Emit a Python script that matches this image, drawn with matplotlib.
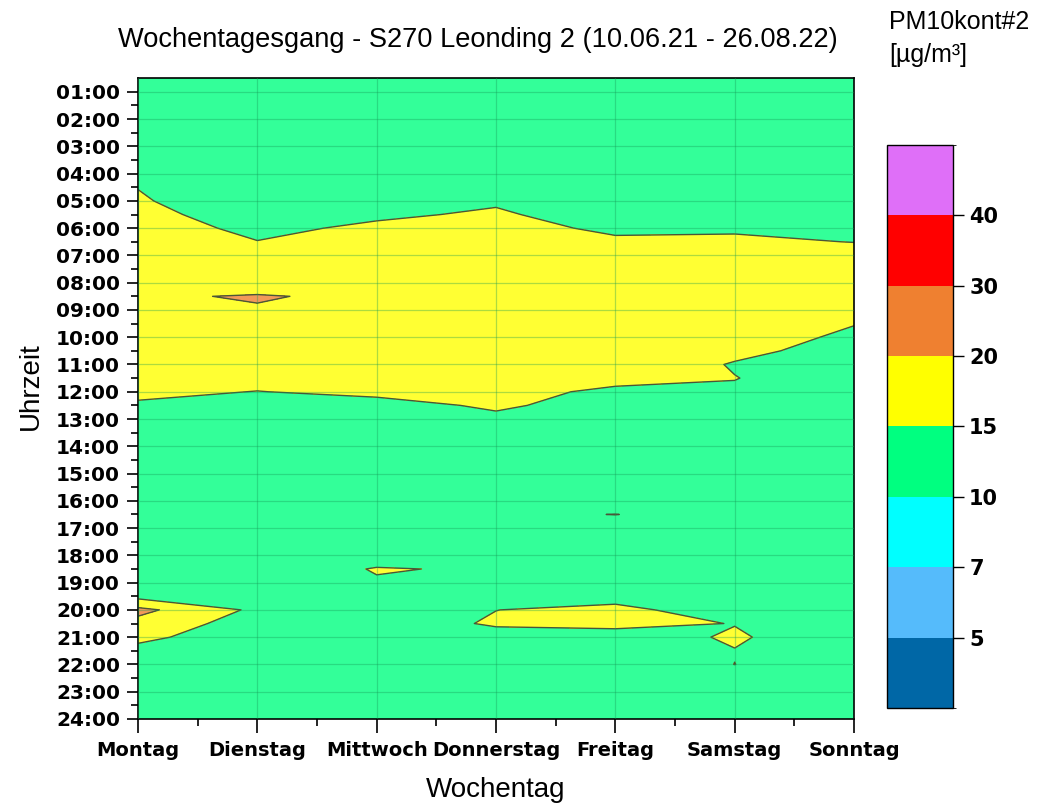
import numpy as np
import matplotlib
matplotlib.use("Agg")
import matplotlib.pyplot as plt
from matplotlib.colors import ListedColormap, BoundaryNorm
from matplotlib.cm import ScalarMappable

plt.rcParams['font.family'] = ['Liberation Sans', 'DejaVu Sans']

# Halbstundenwerte 00:30 .. 24:00, PM10 in µg/m³
wochentage = ["Montag", "Dienstag", "Mittwoch", "Donnerstag", "Freitag", "Samstag", "Sonntag"]

montag = [12.8, 12.6, 12.4, 12.3, 12.2, 12.3, 12.6, 13.4,
          14.9, 15.5, 16.5, 17.0, 17.4, 17.8, 18.3, 18.8,
          19.5, 18.6, 17.9, 17.5, 17.2, 16.9, 16.5, 16.0,
          14.4, 13.6, 13.2, 13.0, 12.8, 12.7, 12.8, 12.9,
          13.0, 13.1, 13.3, 13.4, 13.5, 13.5, 13.5, 21.3,
          18.5, 16.0, 13.8, 13.2, 12.9, 12.7, 12.6, 12.5]
dienstag = [12.7, 12.5, 12.3, 12.1, 12.0, 12.0, 12.1, 12.2,
            11.9, 11.7, 12.5, 14.0, 15.1, 16.5, 17.2, 18.0,
            20.3, 19.7, 18.2, 17.6, 17.2, 16.9, 16.5, 14.9,
            13.6, 13.2, 13.0, 12.8, 12.7, 12.6, 12.6, 12.7,
            12.8, 12.9, 12.9, 12.6, 12.0, 12.4, 13.0, 14.0,
            12.5, 12.3, 12.4, 12.5, 12.5, 12.4, 12.3, 12.3]
mittwoch = [12.6, 12.4, 12.2, 12.0, 11.9, 11.9, 12.0, 12.3,
            12.9, 13.5, 14.3, 15.8, 16.6, 17.1, 17.6, 18.2,
            19.2, 18.4, 17.8, 17.4, 17.1, 16.8, 16.5, 16.0,
            13.5, 13.0, 12.8, 12.6, 12.5, 12.4, 12.5, 12.6,
            12.7, 12.8, 12.9, 12.8, 15.3, 14.6, 13.2, 12.8,
            12.3, 12.4, 12.5, 12.5, 12.4, 12.3, 12.3, 12.2]
donnerstag = [12.7, 12.5, 12.3, 12.1, 12.0, 12.1, 12.3, 12.8,
              13.8, 14.45, 15.6, 16.5, 17.0, 17.4, 17.8, 18.3,
              18.6, 18.2, 17.8, 17.5, 17.2, 17.0, 16.8, 16.35,
              15.64, 14.1, 13.4, 13.0, 12.8, 12.7, 12.8, 13.0,
              14.4, 13.3, 13.2, 13.4, 14.5, 13.0, 13.6, 14.95,
              15.6, 13.1, 12.8, 12.7, 12.6, 12.5, 12.5, 12.4]
freitag = [12.8, 12.6, 12.4, 12.2, 12.1, 12.1, 12.2, 12.4,
           12.6, 12.7, 12.7, 14.2, 15.7, 16.4, 16.9, 17.3,
           17.6, 17.8, 17.9, 18.0, 18.1, 18.0, 16.2, 14.2,
           13.2, 12.9, 12.8, 12.7, 12.7, 12.8, 13.0, 13.3,
           15.05, 13.4, 13.2, 13.1, 13.0, 12.9, 12.9, 16.5,
           16.0, 13.4, 12.9, 12.7, 12.6, 12.5, 12.5, 12.4]
samstag = [12.9, 12.7, 12.5, 12.3, 12.2, 12.2, 12.3, 12.5,
           12.8, 13.2, 13.7, 14.4, 15.8, 16.6, 17.1, 17.5,
           17.7, 17.8, 17.6, 17.0, 16.0, 14.7, 15.1, 14.5,
           13.6, 13.1, 12.9, 12.8, 12.7, 12.7, 12.8, 13.0,
           13.5, 13.4, 13.3, 13.2, 13.2, 13.3, 13.0, 12.0,
           14.9, 15.4, 14.9, 15.02, 13.5, 12.9, 12.7, 12.6]
sonntag = [12.9, 12.8, 12.6, 12.4, 12.3, 12.3, 12.4, 12.6,
           12.9, 13.2, 13.6, 14.1, 14.9, 17.0, 17.4, 17.2,
           16.8, 16.0, 15.15, 14.2, 13.4, 13.0, 12.8, 12.7,
           12.6, 12.6, 12.6, 12.6, 12.6, 12.7, 12.8, 12.9,
           13.0, 13.1, 13.1, 13.0, 12.9, 12.9, 12.9, 12.8,
           12.8, 12.7, 12.7, 12.6, 12.6, 12.5, 12.5, 12.5]

stufen = [0, 5, 7, 10, 15, 20, 30, 40, 50]
farben = ['#0067a6', '#55bbfb', '#00ffff', '#00ff80', '#ffff00', '#ef8030', '#ff0000', '#df6ff8']
cb_ticks = [5, 7, 10, 15, 20, 30, 40]

stunden = np.arange(1, 49) * 0.5
tage = np.arange(7)
Z = np.array([montag, dienstag, mittwoch, donnerstag, freitag, samstag, sonntag]).T

cmap = ListedColormap(farben)
norm = BoundaryNorm(stufen, cmap.N)

fig = plt.figure(figsize=(10.4, 8.06), dpi=100)
ax = fig.add_axes([0.1327, 0.108, 0.6885, 0.795])

ax.contourf(tage, stunden, Z, levels=stufen, cmap=cmap, norm=norm, alpha=0.8)
ax.contour(tage, stunden, Z, levels=stufen, colors='#4a5638', linewidths=1.0)

ax.set_xlim(0, 6)
ax.set_ylim(24, 0.5)
ax.set_xticks(tage)
ax.set_xticklabels(wochentage)
ax.set_xticks(np.arange(0.5, 6, 1), minor=True)
ax.set_yticks(np.arange(1, 25))
ax.set_yticklabels([f"{h:02d}:00" for h in range(1, 25)])
ax.set_yticks(np.arange(1.5, 24, 1), minor=True)
for lab in ax.get_xticklabels() + ax.get_yticklabels():
    lab.set_fontweight('bold')
    lab.set_fontfamily('DejaVu Sans')
ax.tick_params(axis='y', which='major', labelsize=14.5, length=8, width=1.2, pad=5)
ax.tick_params(axis='x', which='major', labelsize=14, length=10, width=1.2, pad=6)
ax.tick_params(which='minor', length=5, width=1.2)
ax.grid(True, which='major', color='#159a55', alpha=0.35, linewidth=0.9)
ax.set_axisbelow(False)
for s in ax.spines.values():
    s.set_linewidth(1.2)

ax.set_xlabel("Wochentag", fontsize=20, labelpad=12)
ax.set_ylabel("Uhrzeit", fontsize=20)
ax.yaxis.set_label_coords(-0.131, 0.52)
fig.text(0.113, 0.95, "Wochentagesgang - S270 Leonding 2 (10.06.21 - 26.08.22)", fontsize=19.6, va='center')

cax = fig.add_axes([0.853, 0.1216, 0.0635, 0.6985])
cb = fig.colorbar(ScalarMappable(norm=norm, cmap=cmap), cax=cax, ticks=cb_ticks, spacing='uniform')
cb.outline.set_linewidth(1.0)
cax.tick_params(length=8, width=1.0, labelsize=15)
for lab in cax.get_yticklabels():
    lab.set_fontweight('bold')
    lab.set_fontfamily('DejaVu Sans')
fig.text(0.855, 0.973, "PM10kont#2", fontsize=18, va='center')
fig.text(0.855, 0.932, "[µg/m³]", fontsize=18, va='center')

fig.savefig("out.png", dpi=100)
